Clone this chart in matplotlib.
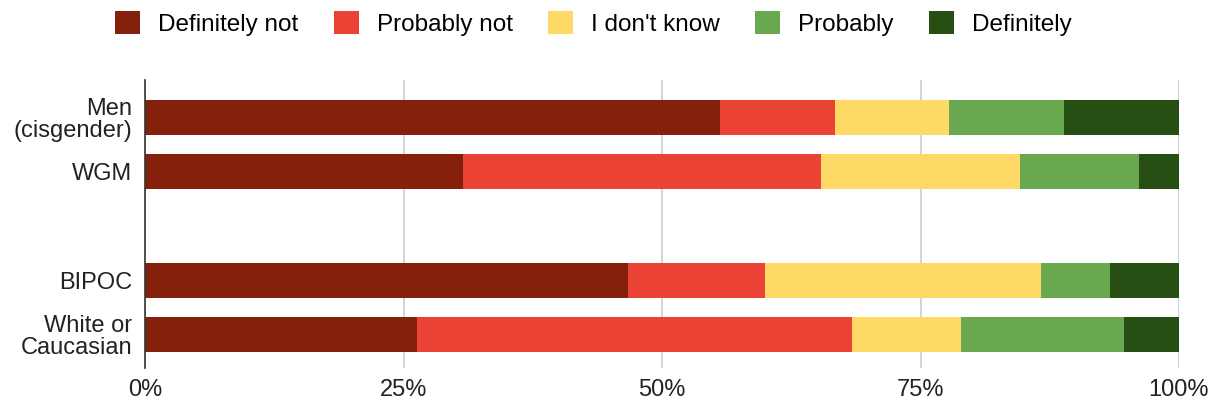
import numpy as np
import matplotlib.pyplot as plt
from matplotlib.patches import Patch

# ---------------------------------------------------------------------------
# data (percent of respondents)
# ---------------------------------------------------------------------------
groups = ['Men\n(cisgender)', 'WGM', '', 'BIPOC', 'White or\nCaucasian']
answers = ['Definitely not', 'Probably not', "I don't know", 'Probably', 'Definitely']

definitely_not = [55.6, 30.8, np.nan, 46.7, 26.3]
probably_not   = [11.1, 34.6, np.nan, 13.3, 42.1]
dont_know      = [11.1, 19.2, np.nan, 26.7, 10.5]
probably       = [11.1, 11.5, np.nan,  6.6, 15.8]
definitely     = [11.1,  3.9, np.nan,  6.7,  5.3]

series = [definitely_not, probably_not, dont_know, probably, definitely]
colors = ['#85200c', '#ea4335', '#ffd966', '#6aa84f', '#274e13']

# ---------------------------------------------------------------------------
# plot
# ---------------------------------------------------------------------------
plt.rcParams['font.family'] = ['Liberation Sans', 'DejaVu Sans']
fs = 17

fig = plt.figure(figsize=(12.21, 4.07), dpi=100)
ax = fig.add_axes([145/1221, 1-368/407, (1179-145)/1221, (368-80)/407])

y = np.arange(len(groups))
left = np.zeros(len(groups))
for vals, c in zip(series, colors):
    v = np.nan_to_num(np.array(vals, dtype=float))
    ax.barh(y, v, left=left, height=0.65, color=c, edgecolor='none', zorder=3)
    left += v

ax.set_xlim(0, 100)
ax.set_ylim(4.62, -0.69)
ax.set_xticks([0, 25, 50, 75, 100])
ax.set_xticklabels(['0%', '25%', '50%', '75%', '100%'], fontsize=fs, color='#222222')
ax.set_yticks(y)
ax.set_yticklabels(groups, fontsize=fs, color='#222222', linespacing=1.0)
ax.tick_params(length=0)
ax.tick_params(axis='x', pad=8)
ax.tick_params(axis='y', pad=9)

ax.grid(axis='x', color='#cccccc', linewidth=1.2, zorder=0)
ax.grid(axis='y', visible=False)
for s in ['top', 'right', 'bottom']:
    ax.spines[s].set_visible(False)
ax.spines['left'].set_color('#333333')
ax.spines['left'].set_linewidth(1.2)
ax.spines['left'].set_zorder(4)

handles = [Patch(facecolor=c, edgecolor='none') for c in colors]
fig.legend(handles, answers, loc='center', bbox_to_anchor=(0.486, 1-23.5/407),
           ncol=5, frameon=False, fontsize=17.5, handlelength=1.03, handleheight=1.03,
           handletextpad=0.74, columnspacing=1.45)

plt.savefig('out.png', dpi=100)
